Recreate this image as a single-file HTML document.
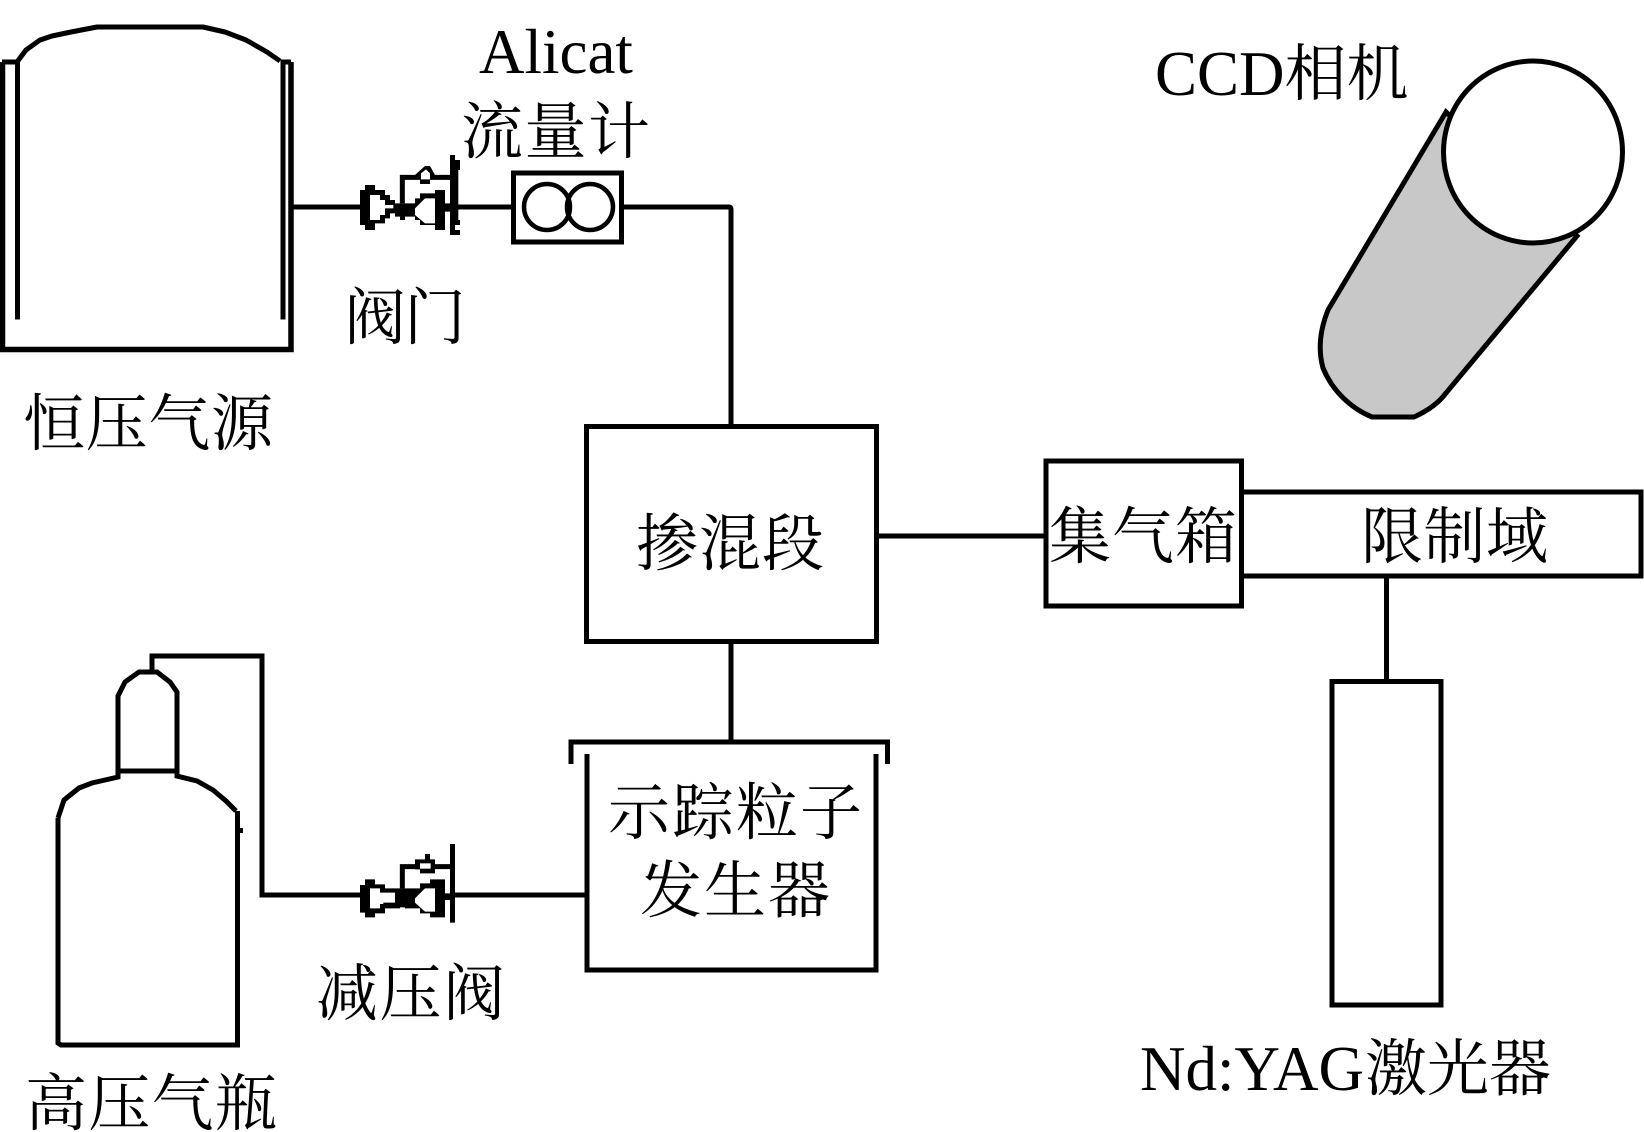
<!DOCTYPE html>
<html lang="zh">
<head>
<meta charset="utf-8">
<title>Diagram</title>
<style>
html,body{margin:0;padding:0;background:#fff;width:1644px;height:1132px;overflow:hidden}
svg{display:block}
.c{font-family:"Liberation Serif","Noto Serif CJK SC",serif;font-size:62px;fill:#000}
.l{font-family:"Liberation Serif","Noto Serif CJK SC",serif;font-size:63px;fill:#000}
</style>
</head>
<body>
<svg width="1644" height="1132" viewBox="0 0 1644 1132" xmlns="http://www.w3.org/2000/svg">
<rect width="1644" height="1132" fill="#fff"/>
<g fill="none" stroke="#000" stroke-width="5">
  <!-- constant pressure tank -->
  <path stroke-width="5.5" d="M2.5 62V349.5H291V62"/>
  <path d="M2 62H17.5V319.5M283 319.5V62H291"/>
  <path stroke-linejoin="bevel" d="M17 62L26 50L40 40L52 36L71 32L97 27H203L225 32L246 40L267 52L280 61"/>
  <!-- pipes upper -->
  <path d="M291 207H361M455 207H512M623 207H729Q731 207 731 209V427"/>
  <!-- flowmeter -->
  <rect x="513.5" y="173" width="108" height="69" stroke-width="5"/>
  <circle cx="547" cy="207" r="23" stroke-width="4.5"/>
  <circle cx="590" cy="207" r="23" stroke-width="4.5"/>
  <!-- mixing box -->
  <rect x="586.5" y="426.5" width="290" height="215"/>
  <path d="M731 641V742"/>
  <!-- generator -->
  <path d="M571 764V742H887.5V764"/>
  <path d="M587 754V970H876V754"/>
  <!-- collector & limit -->
  <path d="M876 536H1046"/>
  <rect x="1046" y="461" width="195.500" height="145"/>
  <path d="M1241 492H1641V576H1241"/>
  <path d="M1386.500 576V681"/>
  <rect x="1332" y="681.500" width="109" height="323.500"/>
  <!-- gas cylinder -->
  <path d="M58 818V1043L61 1045H237.500V811"/>
  <path d="M58 818L64 800L79 788L92 783L118 777V771H177V776L197 781L213 790L226 801L236 811"/>
  <path d="M118 771V696L125 682L139 672H157L170 682L177 692V771"/>
  <path d="M152 672V656H262V895H361M452 895H587"/>
</g>
<rect x="237" y="828" width="6" height="5" fill="#000"/>
<!-- camera -->
<path d="M1446 112L1328 310C1320 330 1318 350 1323 368C1332 390 1350 408 1372 417H1414C1425 412 1438 404 1446 393L1577 236Z" fill="#c8c8c8" stroke="#000" stroke-width="5"/>
<ellipse cx="1533" cy="152" rx="89.500" ry="91" fill="#fff" stroke="#000" stroke-width="5"/>
<!-- valve 1 -->
<g transform="translate(340 140) scale(.3333)">
  <path fill="#000" d="M60 150H75V135H105V150H135V165H150V180H165V190H225V175H240V160H285V150H315V190H330V215H315V270H285V255H240V240H225V230H195V240H180V230H165V220H150V235H135V250H105V270H75V255H60Z"/>
  <path fill="#fff" d="M90 165H120V180H135V195H160V205H135V225H120V240H90Z"/>
  <path fill="#fff" d="M225 205L255 175H285V250H255L225 225Z"/>
  <path fill="none" stroke="#000" stroke-width="15" d="M187 190V112H338"/>
  <path fill="#000" d="M225 105L255 78H270L285 105V112H270V132H240V112H225Z"/>
  <path fill="#fff" d="M243 118V100L258 88L270 100V118Z"/>
  <path fill="#000" d="M330 45H345V90H355V240H345V285H330ZM345 60H360V90H345ZM345 240H360V255H345ZM345 270H360V285H345Z"/>
</g>
<!-- valve 2 -->
<g transform="translate(340 830) scale(.3333)">
  <path fill="#000" d="M60 165H75V148H105V163H135V175H225V175H240V160H270V148H315V190H330V210H315V262H270V250H240V235H195V232H180V235H135V250H105V262H75V248H60Z"/>
  <path fill="#fff" d="M90 175H120V188H165V218H130V222H120V235H90Z"/>
  <path fill="#fff" d="M225 205L255 175H285V245H255L225 218Z"/>
  <path fill="none" stroke="#000" stroke-width="15" d="M187 175V110H338"/>
  <path fill="#000" d="M225 88H255V72H270V88H285V130H240V118H225Z"/>
  <rect x="240" y="100" width="32" height="16" fill="#fff"/>
  <rect x="330" y="42" width="15" height="236" fill="#000"/>
</g>
<!-- labels -->
<text class="l" x="479" y="73">Alicat</text>
<text class="c" x="461" y="153" textLength="189">流量计</text>
<text class="c" x="344" y="339" textLength="122">阀门</text>
<text class="c" x="23" y="445" textLength="250">恒压气源</text>
<text class="c" x="636" y="565" textLength="188">掺混段</text>
<text class="l" x="1155" y="95">CCD<tspan class="c">相机</tspan></text>
<text class="c" x="1049" y="558" textLength="188">集气箱</text>
<text class="c" x="1361" y="558" textLength="187">限制域</text>
<text class="c" x="608" y="834" textLength="254">示踪粒子</text>
<text class="c" x="640" y="912" textLength="190">发生器</text>
<text class="c" x="316" y="1015" textLength="189">减压阀</text>
<text class="c" x="25" y="1125" textLength="252">高压气瓶</text>
<text class="l" x="1140" y="1090">Nd:YAG<tspan class="c" dx="1">激光器</tspan></text>
</svg>
</body>
</html>
